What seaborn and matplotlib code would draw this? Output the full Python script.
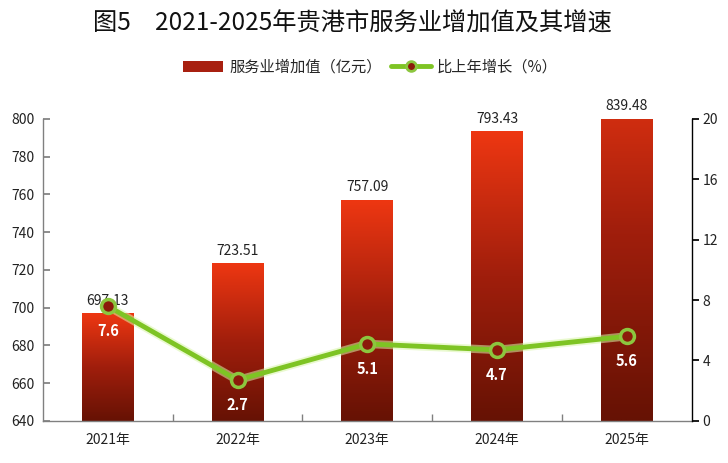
import numpy as np
import pandas as pd
import matplotlib
matplotlib.use("Agg")
import matplotlib.pyplot as plt
import seaborn as sns
from matplotlib.colors import LinearSegmentedColormap
from matplotlib.lines import Line2D
from matplotlib.patches import Patch

years = ["2021年", "2022年", "2023年", "2024年", "2025年"]
value_added = [697.13, 723.51, 757.09, 793.43, 839.48]
growth = [7.6, 2.7, 5.1, 4.7, 5.6]
left_ticks = [640, 660, 680, 700, 720, 740, 760, 780, 800]
right_ticks = [0, 4, 8, 12, 16, 20]

title = "图5　2021-2025年贵港市服务业增加值及其增速"
bar_label = "服务业增加值（亿元）"
line_label = "比上年增长（%）"

YMIN, YMAX = 640, 800

sns.set_theme(style="white")
plt.rcParams['font.family'] = ['Noto Sans CJK SC', 'DejaVu Sans']

fig = plt.figure(figsize=(7.28, 4.63), dpi=100)
ax = fig.add_axes([0.059, 0.091, 0.891, 0.652])

df = pd.DataFrame({"year": years, "value": value_added})
sns.barplot(data=df, x="year", y="value", ax=ax, width=0.4, color="#A82010")
ax.set_ylim(YMIN, YMAX)
ax.set_xlim(-0.5, 4.5)

cmap = LinearSegmentedColormap.from_list("bar", ["#661204", "#A01E0C", "#EE3712"])
for p in ax.patches:
    x0 = p.get_x(); w = p.get_width(); h = p.get_height()
    top = min(h, YMAX)
    frac = (top - YMIN) / (h - YMIN)
    grad = np.linspace(0, frac, 256).reshape(-1, 1)
    ax.imshow(grad, cmap=cmap, vmin=0, vmax=1, aspect="auto", origin="lower",
              extent=[x0, x0 + w, YMIN, top], zorder=2, interpolation="bilinear")
    p.set_facecolor("none")
    p.set_edgecolor("none")

for i, v in enumerate(value_added):
    yv = min(v, YMAX)
    ax.annotate(f"{v:.2f}", (i, yv), xytext=(0, 4), textcoords="offset points",
                ha="center", va="bottom", fontsize=10, color="#222222",
                annotation_clip=False, zorder=6)

ax.set_xlabel(""); ax.set_ylabel("")
ax.set_yticks(left_ticks)
ax.tick_params(axis="y", direction="in", length=5, color="#808080", labelsize=10,
               labelcolor="#222222", pad=6, left=True)
ax.tick_params(axis="x", length=0, labelsize=10, labelcolor="#222222", pad=9)
ax.set_xticks([0.5, 1.5, 2.5, 3.5], minor=True)
ax.tick_params(axis="x", which="minor", direction="in", length=5, color="#808080", bottom=True)
for s in ["top", "right"]:
    ax.spines[s].set_visible(False)
for s in ["left", "bottom"]:
    ax.spines[s].set_color("#808080")
    ax.spines[s].set_linewidth(1)

ax2 = ax.twinx()
xs = np.arange(len(years))
ax2.plot(xs, growth, color="#D8F5A8", lw=6, alpha=0.55, zorder=3, solid_capstyle="round")
sns.lineplot(x=xs, y=growth, ax=ax2, color="#7EC424", lw=3.5, zorder=4,
             marker="o", markersize=10, markerfacecolor="#8B1A0A",
             markeredgecolor="#8CC63E", markeredgewidth=2.5)
ax2.set_ylim(0, 20)
ax2.set_yticks(right_ticks)
ax2.set_xlim(-0.5, 4.5)
ax2.set_ylabel("")
for s in ["top", "left", "bottom"]:
    ax2.spines[s].set_visible(False)
ax2.spines["right"].set_color("#000000")
ax2.spines["right"].set_linewidth(1)
ax2.tick_params(axis="y", direction="out", length=5, color="#000000", labelsize=10,
                labelcolor="#222222", pad=3, right=True)
for i, g in enumerate(growth):
    ax2.annotate(f"{g:.1f}", (i, g), xytext=(0, -18), textcoords="offset points",
                 ha="center", va="center", fontsize=10.5, color="white",
                 fontweight="bold", zorder=6)

fig.text(0.484, 0.948, title, ha="center", va="center", fontsize=17.5, fontweight=500,
         color="#111111")

handles = [Patch(facecolor="#A82010", edgecolor="none"),
           Line2D([0], [0], color="#7EC424", lw=3.5, marker="o", markersize=7,
                  markerfacecolor="#8B1A0A", markeredgecolor="#8CC63E", markeredgewidth=2)]
fig.legend(handles, [bar_label, line_label], loc="center", bbox_to_anchor=(0.509, 0.855),
           ncol=2, frameon=False, fontsize=11, handlelength=2.6, handletextpad=0.4,
           columnspacing=0.6)

fig.savefig("out.png", dpi=100)
